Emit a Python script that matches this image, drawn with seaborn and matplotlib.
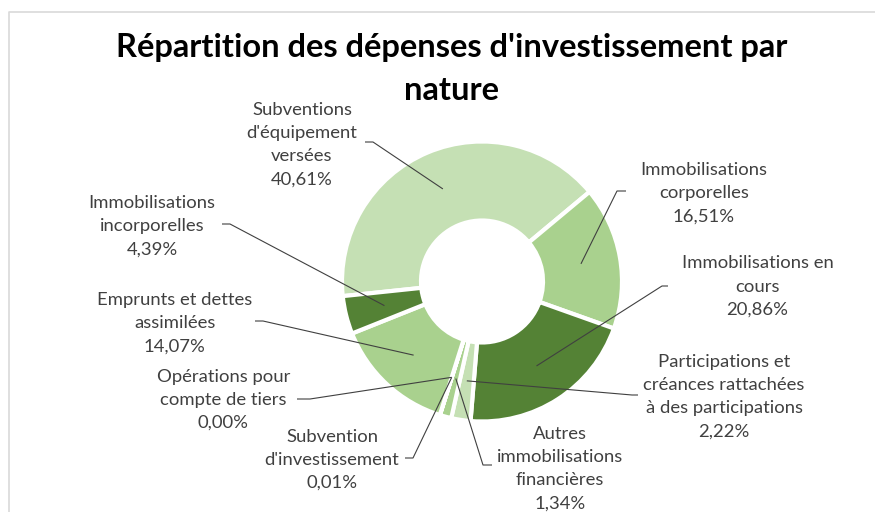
import matplotlib
matplotlib.use("Agg")
import matplotlib.pyplot as plt
import numpy as np
import seaborn as sns

# Capital expenditure by nature (percent of total)
categories = [
    "Subventions d'équipement versées",
    "Immobilisations corporelles",
    "Immobilisations en cours",
    "Participations et créances rattachées à des participations",
    "Autres immobilisations financières",
    "Subvention d'investissement",
    "Opérations pour compte de tiers",
    "Emprunts et dettes assimilées",
    "Immobilisations incorporelles",
]
shares = [40.61, 16.51, 20.86, 2.22, 1.34, 0.01, 0.00, 14.07, 4.39]
label_lines = [
    ["Subventions", "d'équipement", "versées"],
    ["Immobilisations", "corporelles"],
    ["Immobilisations en", "cours"],
    ["Participations et", "créances rattachées", "à des participations"],
    ["Autres", "immobilisations", "financières"],
    ["Subvention", "d'investissement"],
    ["Opérations pour", "compte de tiers"],
    ["Emprunts et dettes", "assimilées"],
    ["Immobilisations", "incorporelles"],
]
title_lines = ["Répartition des dépenses d'investissement par", "nature"]

sns.set_theme(style="white")
plt.rcParams["font.family"] = ["Lato", "DejaVu Sans"]

greens = sns.color_palette(["#C5E0B4", "#A9D18E", "#548235"])
colors = [greens[i % 3] for i in range(len(shares))]

W, H = 875, 512
def fy(y):
    # page coordinates measured from the top edge
    return H - y

fig = plt.figure(figsize=(W / 100, H / 100), dpi=100)
ax = fig.add_axes([0, 0, 1, 1])

cx, cy = 482, fy(281.5)
r_out, r_in = 140, 61
start = 186
ax.pie(shares, colors=colors, startangle=start, counterclock=False,
       radius=r_out, center=(cx, cy),
       wedgeprops=dict(width=r_out - r_in, edgecolor="white", linewidth=3))

ax.set_xlim(0, W)
ax.set_ylim(0, H)
ax.set_aspect("equal", adjustable="box")
ax.axis("off")

# chart frame (light grey)
ax.plot([9, 9, W + 10], [fy(H + 10), fy(12), fy(12)], color="#d9d9d9",
        lw=1.2, clip_on=False)

# title
for i, t in enumerate(title_lines):
    ax.text(452, fy(57 + 43 * i), t, ha="center", va="baseline",
            fontsize=23.5, fontweight="bold", color="#000000")

# label blocks: centre x, first baseline, leader start and elbow
label_layout = [
    (302, 115, (365, 142), (373, 142)),
    (704, 175, (626, 191), (617, 191)),
    (757.5, 268.3, (668, 286), (662, 286)),
    (724, 366.7, (638, 395), (632, 395)),
    (560, 439, (492, 465), (483, 465)),
    (332, 441.7, (405, 458), (413, 458)),
    (223.5, 381.7, (297, 399), (310, 399)),
    (174.7, 305, (255, 321), (263, 321)),
    (152, 208.3, (222, 224), (230, 224)),
]
pitch = 23.2
total = sum(shares)
cum = 0.0
r_mid = (r_out + r_in) / 2
for v, lines, (lx, lb, p0, p1) in zip(shares, label_lines, label_layout):
    mid = start - (cum + v / 2) / total * 360
    cum += v
    sx = cx + r_mid * np.cos(np.radians(mid))
    sy = cy + r_mid * np.sin(np.radians(mid))
    pct = f"{v:.2f}%".replace(".", ",")
    for k, t in enumerate(lines + [pct]):
        ax.text(lx, fy(lb + k * pitch), t, ha="center", va="baseline",
                fontsize=13.3, color="#404040")
    ax.plot([p0[0], p1[0], sx], [fy(p0[1]), fy(p1[1]), sy],
            color="#404040", lw=0.8, solid_capstyle="butt")

fig.savefig("out.png", dpi=100)
